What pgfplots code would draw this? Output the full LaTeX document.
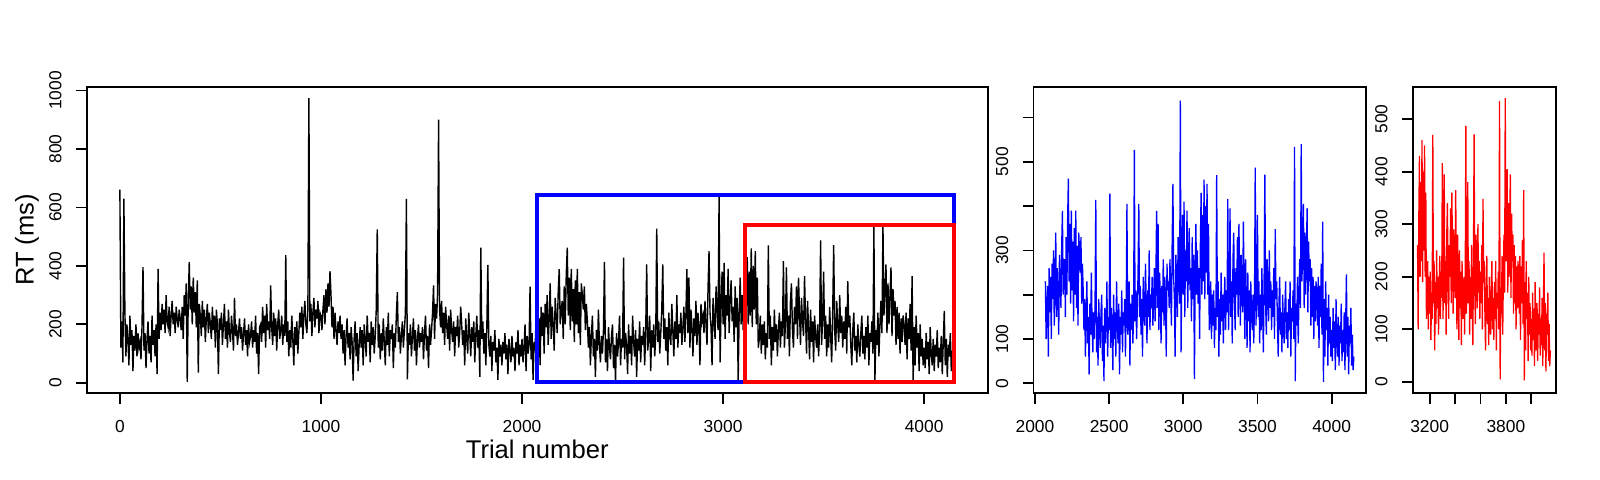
\documentclass[border=0pt]{standalone}
\usepackage{fontspec}
\setmainfont{Liberation Sans}
\usepackage{pgfplots}
\usepackage{pgfplotstable}
\pgfplotsset{compat=1.18}
% RT per trial, one value every 5 trials (trial = 5*row index)
\pgfplotstableread[row sep=\\]{rt\\
661\\120\\210\\70\\630\\240\\90\\200\\150\\60\\230\\130\\180\\40\\160\\110\\200\\90\\170\\120\\
140\\80\\190\\396\\110\\170\\50\\150\\210\\100\\160\\70\\230\\130\\180\\90\\200\\30\\390\\150\\
240\\180\\270\\200\\250\\170\\300\\210\\190\\260\\160\\230\\280\\200\\240\\170\\260\\220\\190\\250\\
220\\180\\260\\150\\300\\230\\340\\3\\280\\413\\250\\330\\200\\360\\240\\310\\190\\350\\35\\270\\
230\\160\\280\\190\\250\\140\\220\\270\\170\\240\\200\\150\\260\\180\\230\\120\\250\\200\\30\\220\\
180\\240\\130\\200\\270\\150\\210\\120\\250\\170\\140\\230\\180\\110\\290\\160\\200\\130\\170\\220\\
150\\190\\110\\170\\220\\130\\180\\90\\200\\140\\160\\210\\120\\180\\140\\230\\100\\170\\30\\190\\
200\\140\\260\\170\\230\\120\\270\\180\\210\\150\\333\\190\\130\\240\\160\\220\\110\\200\\250\\150\\
180\\230\\130\\200\\160\\437\\140\\210\\90\\180\\120\\230\\150\\60\\190\\130\\210\\100\\170\\240\\
190\\260\\150\\230\\280\\200\\170\\250\\974\\210\\270\\160\\240\\290\\190\\250\\220\\280\\170\\240\\
230\\180\\250\\300\\200\\320\\240\\340\\260\\382\\300\\190\\260\\150\\240\\180\\130\\210\\170\\230\\
150\\200\\100\\180\\60\\160\\220\\120\\170\\80\\190\\140\\7\\150\\210\\90\\170\\40\\130\\190\\
120\\180\\60\\200\\150\\90\\230\\140\\170\\70\\210\\130\\190\\100\\160\\250\\525\\120\\200\\80\\
170\\110\\220\\140\\60\\190\\130\\240\\90\\180\\150\\200\\50\\170\\120\\230\\310\\140\\190\\100\\
160\\210\\120\\180\\240\\629\\12\\170\\130\\200\\90\\160\\220\\110\\180\\60\\150\\200\\120\\170\\
140\\190\\80\\170\\230\\110\\160\\50\\200\\130\\180\\240\\333\\150\\270\\220\\300\\900\\250\\190\\
280\\170\\240\\130\\260\\200\\150\\230\\110\\250\\180\\140\\210\\90\\190\\160\\230\\120\\170\\260\\
200\\130\\180\\60\\220\\150\\100\\240\\170\\90\\190\\140\\210\\70\\160\\230\\120\\180\\20\\462\\
150\\210\\100\\170\\60\\190\\403\\130\\90\\160\\40\\140\\110\\180\\70\\120\\10\\150\\90\\130\\
60\\140\\100\\170\\80\\130\\30\\150\\110\\70\\160\\90\\120\\40\\140\\100\\180\\60\\130\\90\\
150\\70\\120\\200\\40\\160\\100\\130\\329\\80\\170\\10\\140\\110\\230\\100\\180\\220\\60\\260\\
160\\240\\100\\270\\190\\300\\130\\220\\340\\150\\260\\200\\110\\290\\230\\170\\310\\389\\200\\250\\
280\\150\\330\\200\\370\\462\\230\\360\\180\\390\\210\\320\\140\\350\\200\\390\\170\\310\\130\\340\\
300\\250\\330\\180\\270\\210\\120\\190\\60\\160\\230\\90\\150\\20\\180\\110\\250\\130\\70\\160\\
100\\180\\414\\70\\150\\40\\190\\120\\80\\160\\200\\50\\130\\5\\170\\90\\140\\230\\60\\150\\
120\\428\\80\\170\\130\\30\\200\\100\\160\\60\\230\\140\\90\\180\\20\\150\\110\\210\\70\\160\\
130\\190\\60\\170\\405\\110\\150\\230\\40\\180\\120\\200\\90\\160\\527\\140\\210\\100\\170\\250\\
405\\150\\220\\110\\190\\60\\240\\160\\130\\270\\180\\90\\210\\150\\300\\120\\200\\170\\240\\130\\
190\\260\\140\\230\\389\\170\\360\\120\\250\\200\\90\\220\\160\\280\\130\\240\\190\\60\\270\\210\\
230\\170\\280\\200\\130\\320\\450\\240\\190\\60\\290\\220\\150\\330\\250\\180\\638\\70\\260\\380\\
200\\410\\150\\300\\230\\390\\170\\280\\350\\210\\260\\140\\330\\190\\290\\10\\240\\360\\200\\300\\
180\\260\\100\\310\\430\\200\\380\\230\\460\\190\\400\\250\\450\\200\\360\\120\\150\\230\\100\\200\\
130\\210\\80\\170\\120\\470\\150\\230\\60\\190\\110\\250\\140\\200\\90\\180\\240\\120\\210\\160\\
416\\120\\200\\395\\150\\230\\90\\280\\340\\180\\120\\260\\200\\330\\150\\360\\240\\130\\290\\210\\
160\\365\\220\\100\\280\\190\\80\\250\\140\\210\\70\\230\\160\\120\\200\\90\\180\\487\\130\\220\\
380\\150\\230\\90\\200\\120\\260\\160\\70\\240\\471\\180\\110\\280\\200\\140\\300\\170\\230\\120\\
210\\150\\260\\100\\348\\190\\230\\130\\60\\180\\240\\110\\160\\70\\200\\130\\90\\170\\230\\100\\
160\\80\\190\\120\\230\\60\\170\\140\\210\\100\\534\\5\\180\\130\\240\\90\\200\\280\\170\\540\\
230\\310\\405\\170\\340\\200\\300\\395\\160\\320\\230\\280\\130\\260\\150\\240\\100\\220\\140\\230\\
200\\130\\240\\80\\220\\150\\270\\110\\365\\3\\190\\60\\230\\120\\170\\40\\200\\90\\150\\60\\
120\\50\\170\\80\\140\\30\\190\\100\\60\\150\\40\\130\\90\\180\\50\\120\\70\\160\\30\\140\\
246\\60\\150\\20\\130\\90\\170\\40\\110\\30\\60\\
}\rtdata

\pgfplotsset{
  rpanel/.style={
    scale only axis,
    height=153.3pt,
    anchor=south west,
    axis line style={line width=0.9pt},
    tick align=outside,
    major tick length=5.3pt,
    every tick/.style={black, line width=0.9pt},
    tick pos=left,
    ticklabel style={font=\fontsize{8.7}{10}\selectfont},
    /pgf/number format/assume math mode=true,
    /pgf/number format/set thousands separator={},
    scaled ticks=false,
    xticklabel style={anchor=base, inner sep=0pt, yshift=-14.2pt},
    yticklabel style={rotate=90, anchor=base, inner sep=0pt, yshift=7.35pt},
    label style={font=\fontsize{12.8}{15}\selectfont},
  }
}

\begin{document}
\begin{tikzpicture}
\useasboundingbox (0,0) rectangle (800pt,240pt);

% main panel
\begin{axis}[rpanel,
  at={(43.35pt,43.35pt)}, width=450.5pt,
  xmin=-165, xmax=4316, ymin=-36, ymax=1013,
  xtick={0,1000,2000,3000,4000},
  ytick={0,200,400,600,800,1000},
  xlabel={Trial number}, ylabel={RT (ms)},
  xlabel style={at={(axis description cs:0.5,0)}, anchor=base, yshift=-32.5pt},
  ylabel style={at={(axis description cs:-0.0588,0.5)}, anchor=base},
]
\addplot[black, line width=0.7pt, mark=none] table[x expr=\coordindex*5, y=rt]{\rtdata};
\addplot[blue, line width=2pt, line cap=rect, line join=miter, mark=none]
  coordinates {(2073,3) (4150,3) (4150,644) (2073,644) (2073,3)};
\addplot[red, line width=2pt, line cap=rect, line join=miter, mark=none]
  coordinates {(3109,3) (4150,3) (4150,540) (3109,540) (3109,3)};
\end{axis}

% blue zoom panel
\begin{axis}[rpanel,
  at={(516.75pt,43.35pt)}, width=166.25pt,
  xmin=1990, xmax=4232, ymin=-22.6, ymax=669.6,
  xtick={2000,2500,3000,3500,4000},
  ytick={0,100,200,300,400,500,600},
  yticklabels={0,100,{},300,{},500,{}},
]
\addplot[blue, line width=0.65pt, mark=none, restrict x to domain=2070:4155]
  table[x expr=\coordindex*5, y=rt]{\rtdata};
\end{axis}

% red zoom panel
\begin{axis}[rpanel,
  at={(706.35pt,43.35pt)}, width=71.5pt,
  xmin=3067, xmax=4192, ymin=-21.6, ymax=561.6,
  xtick={3200,3400,3600,3800,4000},
  xticklabels={3200,{},{},3800,{}},
  ytick={0,100,200,300,400,500},
]
\addplot[red, line width=0.65pt, mark=none, restrict x to domain=3105:4155]
  table[x expr=\coordindex*5, y=rt]{\rtdata};
\end{axis}
\end{tikzpicture}
\end{document}
